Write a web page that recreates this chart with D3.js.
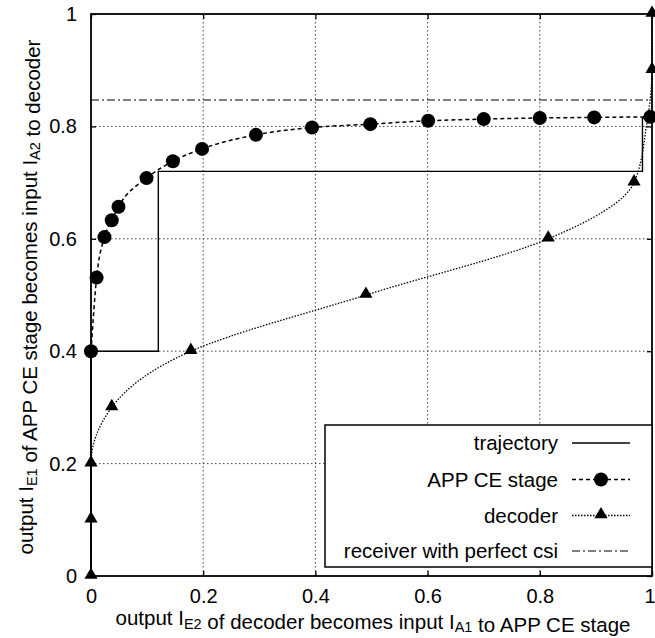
<!DOCTYPE html>
<html><head><meta charset="utf-8">
<script src="https://cdn.jsdelivr.net/npm/d3@7"></script>
<style>
html,body{margin:0;padding:0;background:#fff;}
svg{display:block;font-family:"Liberation Sans",Arial,Helvetica,sans-serif;}
</style></head>
<body>
<svg id="chart" width="655" height="638"></svg>
<script>
// ---- data ----
const xTicks = [0, 0.2, 0.4, 0.6, 0.8, 1];
const yTicks = [0, 0.2, 0.4, 0.6, 0.8, 1];
const xTickLabels = ["0", "0.2", "0.4", "0.6", "0.8", "1"];
const yTickLabels = ["0", "0.2", "0.4", "0.6", "0.8", "1"];

const appX = [0, 0.01, 0.024, 0.037, 0.049, 0.099, 0.146, 0.198, 0.294, 0.394, 0.498, 0.601, 0.70, 0.80, 0.897, 0.997];
const appY = [0.40, 0.531, 0.603, 0.633, 0.657, 0.708, 0.738, 0.760, 0.785, 0.798, 0.804, 0.810, 0.813, 0.815, 0.816, 0.817];

const decX = [0, 0, 0, 0.037, 0.178, 0.49, 0.815, 0.968, 0.99, 1, 1];
const decY = [0, 0.1, 0.2, 0.3, 0.4, 0.5, 0.6, 0.7, 0.8, 0.9, 1.0];
const decMarkerShown = [true, true, true, true, true, true, true, true, false, true, true];

const trajX = [0, 0, 0.12, 0.12, 0.983, 0.983, 0.995];
const trajY = [0, 0.40, 0.40, 0.720, 0.720, 0.815, 0.815];

const csiLevel = 0.847;

const legendLabels = ["trajectory", "APP CE stage", "decoder", "receiver with perfect csi"];

// ---- layout ----
const svg = d3.select("#chart");
const L = 91, R = 652, T = 14, B = 576;
const x = d3.scaleLinear().domain([0, 1]).range([L, R]);
const y = d3.scaleLinear().domain([0, 1]).range([B, T]);
const FS = 20;
const FT = 20.5;

// grid
const grid = svg.append("g");
grid.selectAll("line.gx").data(xTicks.slice(1, -1)).join("line")
  .attr("x1", d => x(d)).attr("x2", d => x(d)).attr("y1", T).attr("y2", B)
  .attr("stroke", "#444").attr("stroke-width", 1).attr("stroke-dasharray", "1.5,2.5");
grid.selectAll("line.gy").data(yTicks.slice(1, -1)).join("line")
  .attr("y1", d => y(d)).attr("y2", d => y(d)).attr("x1", L).attr("x2", R)
  .attr("stroke", "#444").attr("stroke-width", 1).attr("stroke-dasharray", "1.5,2.5");

// axes (ticks inward) on all four sides
const axB = d3.axisBottom(x).tickValues(xTicks).tickFormat((d, i) => xTickLabels[i]).tickSizeInner(-5).tickSizeOuter(0).tickPadding(13);
const axL = d3.axisLeft(y).tickValues(yTicks).tickFormat((d, i) => yTickLabels[i]).tickSizeInner(-5).tickSizeOuter(0).tickPadding(14);
const axT = d3.axisTop(x).tickValues(xTicks).tickFormat("").tickSizeInner(-5).tickSizeOuter(0);
const axR = d3.axisRight(y).tickValues(yTicks).tickFormat("").tickSizeInner(-5).tickSizeOuter(0);

function styleAxis(g) {
  g.select(".domain").remove();
  g.selectAll(".tick line").attr("stroke", "#000").attr("stroke-width", 1.3);
  g.selectAll(".tick text").attr("fill", "#000").attr("font-size", FS)
    .attr("font-family", "Liberation Sans, Arial, sans-serif");
}
const gB = svg.append("g").attr("transform", `translate(0,${B})`).call(axB).call(styleAxis);
// keep the last label ("1") inside the page edge
gB.selectAll(".tick text").filter(d => d === 1).attr("text-anchor", "end").attr("x", 655 - R);
svg.append("g").attr("transform", `translate(${L},0)`).call(axL).call(styleAxis);
svg.append("g").attr("transform", `translate(0,${T})`).call(axT).call(styleAxis);
svg.append("g").attr("transform", `translate(${R},0)`).call(axR).call(styleAxis);

// frame
svg.append("rect").attr("x", L).attr("y", T).attr("width", R - L).attr("height", B - T)
  .attr("fill", "none").attr("stroke", "#000").attr("stroke-width", 1.8);

// receiver with perfect csi
svg.append("line").attr("x1", x(0)).attr("x2", x(1)).attr("y1", y(csiLevel)).attr("y2", y(csiLevel))
  .attr("stroke", "#000").attr("stroke-width", 1.2).attr("stroke-dasharray", "8,3,2,3");

// decoder curve
const decPts = decX.map((v, i) => [v, decY[i]]);
svg.append("path").datum(decPts)
  .attr("d", d3.line().x(d => x(d[0])).y(d => y(d[1])).curve(d3.curveMonotoneY))
  .attr("fill", "none").attr("stroke", "#000").attr("stroke-width", 1.3).attr("stroke-dasharray", "1.5,1.5");

// APP CE curve
const appPts = appX.map((v, i) => [v, appY[i]]);
svg.append("path").datum(appPts)
  .attr("d", d3.line().x(d => x(d[0])).y(d => y(d[1])).curve(d3.curveMonotoneX))
  .attr("fill", "none").attr("stroke", "#000").attr("stroke-width", 1.5).attr("stroke-dasharray", "4,3");

// trajectory
const trajPts = trajX.map((v, i) => [v, trajY[i]]);
svg.append("path").datum(trajPts)
  .attr("d", d3.line().x(d => x(d[0])).y(d => y(d[1])))
  .attr("fill", "none").attr("stroke", "#000").attr("stroke-width", 1.4);

// markers
const tri = d3.symbol().type(d3.symbolTriangle).size(75);
svg.append("g").selectAll("path").data(decPts.filter((d, i) => decMarkerShown[i])).join("path")
  .attr("d", tri).attr("transform", d => `translate(${x(d[0])},${y(d[1]) - 1})`).attr("fill", "#000");
svg.append("g").selectAll("circle").data(appPts).join("circle")
  .attr("cx", d => x(d[0])).attr("cy", d => y(d[1])).attr("r", 7).attr("fill", "#000");

// legend
const lg = svg.append("g");
lg.append("rect").attr("x", 325).attr("y", 425).attr("width", R - 325).attr("height", 142)
  .attr("fill", "#fff").attr("stroke", "#000").attr("stroke-width", 1.5);
const rowY = [443, 479.5, 515.5, 551];
const lx1 = 572, lx2 = 630, lxm = 601;
legendLabels.forEach((t, i) => {
  lg.append("text").attr("x", 558).attr("y", rowY[i] + 7).attr("text-anchor", "end")
    .attr("font-size", FT).attr("fill", "#000").text(t);
});
lg.append("line").attr("x1", lx1).attr("x2", lx2).attr("y1", rowY[0]).attr("y2", rowY[0])
  .attr("stroke", "#000").attr("stroke-width", 1.4);
lg.append("line").attr("x1", lx1).attr("x2", lx2).attr("y1", rowY[1]).attr("y2", rowY[1])
  .attr("stroke", "#000").attr("stroke-width", 1.5).attr("stroke-dasharray", "4,3");
lg.append("circle").attr("cx", lxm).attr("cy", rowY[1]).attr("r", 7).attr("fill", "#000");
lg.append("line").attr("x1", lx1).attr("x2", lx2).attr("y1", rowY[2]).attr("y2", rowY[2])
  .attr("stroke", "#000").attr("stroke-width", 1.3).attr("stroke-dasharray", "1.5,1.5");
lg.append("path").attr("d", tri).attr("transform", `translate(${lxm},${rowY[2] - 1})`).attr("fill", "#000");
lg.append("line").attr("x1", lx1).attr("x2", lx2).attr("y1", rowY[3]).attr("y2", rowY[3])
  .attr("stroke", "#000").attr("stroke-width", 1.2).attr("stroke-dasharray", "8,3,2,3");

// axis titles
function addLabel(g, parts) {
  parts.forEach(p => {
    if (p.sub) {
      g.append("tspan").attr("font-size", 14.5).attr("dy", 3.5).text(p.t);
      g.append("tspan").attr("dy", -3.5).text("");
    } else {
      g.append("tspan").text(p.t);
    }
  });
}
const xt = svg.append("text").attr("x", 373).attr("y", 625).attr("text-anchor", "middle")
  .attr("font-size", FT).attr("fill", "#000");
addLabel(xt, [{t: "output I"}, {t: "E2", sub: true}, {t: " of decoder becomes input I"}, {t: "A1", sub: true}, {t: " to APP CE stage"}]);

const yt = svg.append("text").attr("transform", "translate(33,297) rotate(-90)").attr("text-anchor", "middle")
  .attr("font-size", FT).attr("fill", "#000");
addLabel(yt, [{t: "output I"}, {t: "E1", sub: true}, {t: " of APP CE stage becomes input I"}, {t: "A2", sub: true}, {t: " to decoder"}]);
</script>
</body></html>
